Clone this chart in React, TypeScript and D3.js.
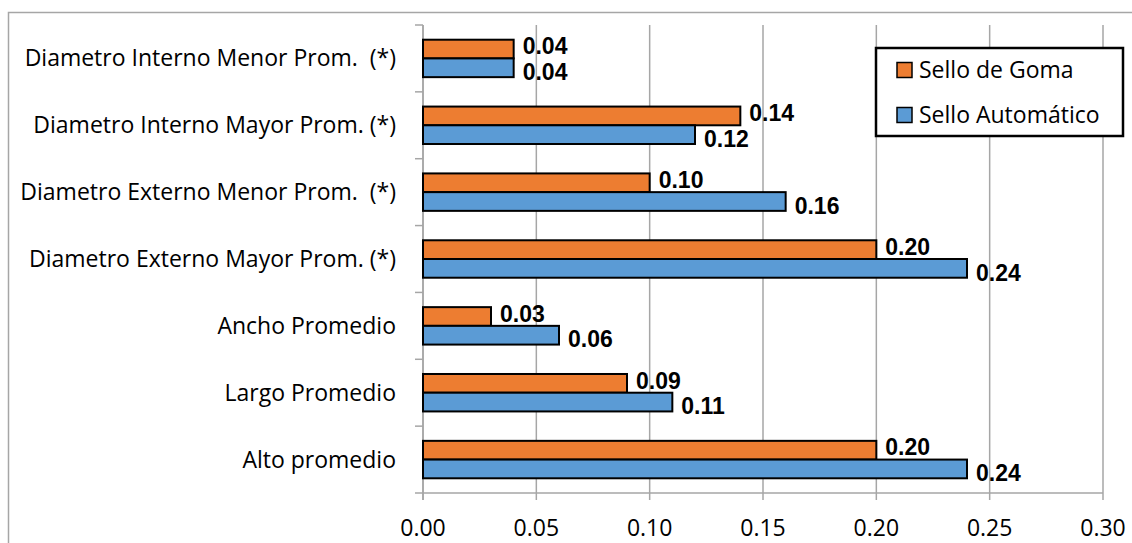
import React from "react";
import * as d3 from "d3";

const categories = [
  "Diametro Interno Menor Prom.  (*)",
  "Diametro Interno Mayor Prom. (*)",
  "Diametro Externo Menor Prom.  (*)",
  "Diametro Externo Mayor Prom. (*)",
  "Ancho Promedio",
  "Largo Promedio",
  "Alto promedio",
];
const selloGoma = [0.04, 0.14, 0.1, 0.2, 0.03, 0.09, 0.2];
const selloAutomatico = [0.04, 0.12, 0.16, 0.24, 0.06, 0.11, 0.24];
const xTicks = [0, 0.05, 0.1, 0.15, 0.2, 0.25, 0.3];
const seriesNames = ["Sello de Goma", "Sello Automático"];
const seriesColors = ["#ED7D31", "#5B9BD5"];

const W = 1132;
const H = 543;
const plot = { left: 423, right: 1103, top: 25, bottom: 493 };
const catFont = "'Open Sans', 'Noto Sans', sans-serif";
const labelFont = "'Liberation Sans', Arial, sans-serif";

export default function App() {
  const x = d3.scaleLinear().domain([0, 0.3]).range([plot.left, plot.right]);
  const y = d3.scaleBand<string>().domain(categories).range([plot.top, plot.bottom]).padding(0);
  const step = y.step();
  const barH = step * 0.28;
  const series = [selloGoma, selloAutomatico];
  const labelShift = [-3, 4];
  const grid = "#A6A6A6";

  return (
    <svg width={W} height={H} style={{ position: "absolute", left: 0, top: 0, background: "#fff" }}>
      {/* chart frame */}
      <rect x={8.5} y={12.5} width={1300} height={700} fill="none" stroke="#A6A6A6" strokeWidth={1.5} />

      {/* vertical gridlines with ticks below the axis */}
      {xTicks.map((t) => (
        <line key={t} x1={x(t)} x2={x(t)} y1={plot.top} y2={plot.bottom + 7} stroke={grid} strokeWidth={1.5} />
      ))}
      {/* category axis and its ticks */}
      <line x1={plot.left} x2={plot.left} y1={plot.top} y2={plot.bottom + 7} stroke={grid} strokeWidth={1.5} />
      <line x1={plot.left} x2={plot.right} y1={plot.bottom} y2={plot.bottom} stroke={grid} strokeWidth={1.5} />
      {d3.range(categories.length + 1).map((i) => (
        <line key={i} x1={plot.left - 8} x2={plot.left} y1={plot.top + i * step} y2={plot.top + i * step} stroke={grid} strokeWidth={1.5} />
      ))}

      {/* bars */}
      {categories.map((c, i) => {
        const cy = (y(c) as number) + step / 2;
        return (
          <g key={c}>
            {series.map((s, k) => {
              const by = cy - barH + k * barH;
              return (
                <rect
                  key={k}
                  x={x(0)}
                  y={by}
                  width={x(s[i]) - x(0)}
                  height={barH}
                  fill={seriesColors[k]}
                  stroke="#000"
                  strokeWidth={2}
                />
              );
            })}
            {series.map((s, k) => {
              const by = cy - barH + k * barH;
              return (
                <text
                  key={"l" + k}
                  x={x(s[i]) + 9}
                  y={by + barH / 2 + labelShift[k]}
                  dy="0.36em"
                  fontFamily={labelFont}
                  fontWeight="bold"
                  fontSize={23}
                  fill="#000"
                >
                  {s[i].toFixed(2)}
                </text>
              );
            })}
            <text
              x={396}
              y={cy}
              dy="0.35em"
              textAnchor="end"
              fontFamily={catFont}
              fontSize={23}
              fill="#000"
              style={{ whiteSpace: "pre" }}
            >
              {c}
            </text>
          </g>
        );
      })}

      {/* value axis labels */}
      {xTicks.map((t) => (
        <text key={"t" + t} x={x(t)} y={528} dy="0.35em" textAnchor="middle" fontFamily={catFont} fontSize={23} fill="#000">
          {t.toFixed(2)}
        </text>
      ))}

      {/* legend */}
      <g>
        <rect x={876} y={48} width={247} height={88} fill="#fff" stroke="#000" strokeWidth={2.5} />
        {seriesNames.map((n, k) => (
          <g key={n} transform={`translate(897, ${70 + k * 45})`}>
            <rect x={0} y={-7.5} width={15} height={15} fill={seriesColors[k]} stroke="#000" strokeWidth={1.5} />
            <text x={22} y={0} dy="0.35em" fontFamily={catFont} fontSize={23} fill="#000">
              {n}
            </text>
          </g>
        ))}
      </g>
    </svg>
  );
}
